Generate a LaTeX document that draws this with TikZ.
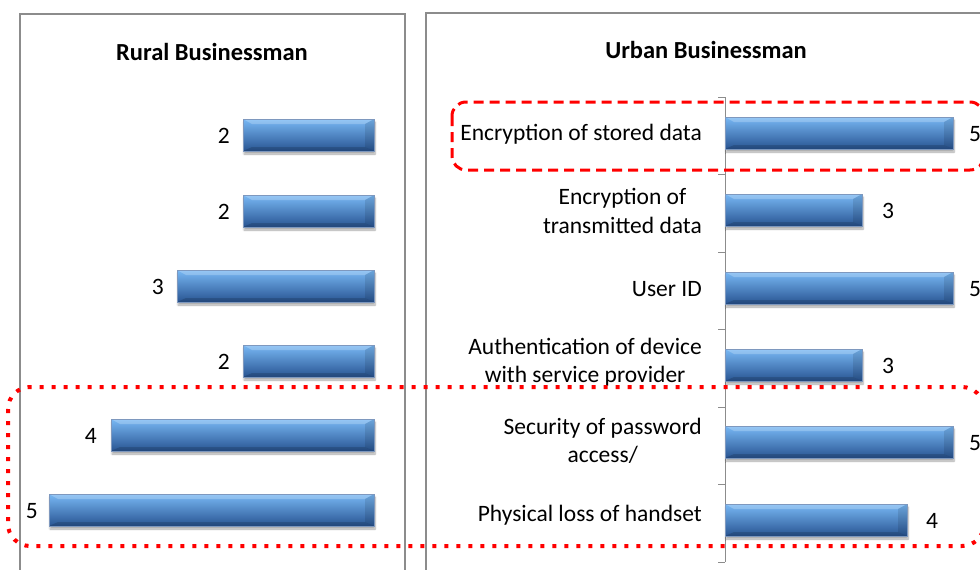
\documentclass[tikz,border=0pt]{standalone}
\usepackage{fontspec}
\setmainfont{Carlito}
\usetikzlibrary{shadows.blur}
\definecolor{barlight}{RGB}{120,184,244}
\definecolor{barmid}{RGB}{60,122,200}
\definecolor{bardark}{RGB}{40,84,146}
\definecolor{framegray}{RGB}{140,140,140}
\definecolor{markred}{RGB}{255,0,0}

\begin{document}
\begin{tikzpicture}[x=1pt,y=-1pt,
  panel/.style={draw=framegray, line width=1.2pt},
  barbox/.style={top color=barlight, middle color=barmid, bottom color=bardark,
    draw=bardark!60, line width=0.3pt,
    blur shadow={shadow xshift=1pt, shadow yshift=-3pt, shadow opacity=35, shadow blur steps=6},
    path picture={
      % bevel: light top face, dark bottom face, dark right end
      \fill[white, opacity=0.22] (path picture bounding box.north west) -- (path picture bounding box.north east)
        -- ([shift={(-9pt,-5pt)}]path picture bounding box.north east) -- ([shift={(9pt,-5pt)}]path picture bounding box.north west) -- cycle;
      \fill[black, opacity=0.15] (path picture bounding box.south west) -- (path picture bounding box.south east)
        -- ([shift={(-9pt,4pt)}]path picture bounding box.south east) -- ([shift={(9pt,4pt)}]path picture bounding box.south west) -- cycle;
      \fill[black, opacity=0.10] (path picture bounding box.north east) -- ([shift={(-9pt,-5pt)}]path picture bounding box.north east)
        -- ([shift={(-9pt,4pt)}]path picture bounding box.south east) -- (path picture bounding box.south east) -- cycle;
    }},
  paneltitle/.style={font=\fontsize{24.5}{28}\selectfont\bfseries},
  val/.style={font=\fontsize{23.5}{28}\selectfont, inner sep=0pt},
  cat/.style={font=\fontsize{23.5}{28.5}\selectfont, anchor=east, align=center, inner sep=0pt}]
\useasboundingbox (0,0) rectangle (980,570);

% Panel frames
\draw[panel] (20,580) |- (405,14) -- (405,580);
\draw[panel] (426,580) |- (990,13);

% Rural panel
\begin{scope}
    \node[paneltitle] (ruraltitle) at (212,52) {Rural Businessman};

    % Bars (right aligned at 374, 65 per unit)
    \shade[barbox] (243,119) rectangle (374,151); % 2
    \shade[barbox] (243,195) rectangle (374,227); % 2
    \shade[barbox] (177,270) rectangle (374,302); % 3
    \shade[barbox] (243,345) rectangle (374,377); % 2
    \shade[barbox] (111,419) rectangle (374,451); % 4
    \shade[barbox] (49,494) rectangle (374,526);  % 5

    % Value labels
    \node[val, anchor=east] (rv1) at (230,136) {2};
    \node[val, anchor=east] (rv2) at (230,212) {2};
    \node[val, anchor=east] (rv3) at (164,287) {3};
    \node[val, anchor=east] (rv4) at (230,362) {2};
    \node[val, anchor=east] (rv5) at (97,436) {4};
    \node[val, anchor=east] (rv6) at (38,511) {5};
\end{scope}

% Urban panel
\begin{scope}
    \node[paneltitle] (urbantitle) at (706,50) {Urban Businessman};

    % Category axis with ticks
    \draw[framegray, line width=1pt] (725,97) -- (725,562);
    \foreach \t in {97,174.5,252,329.5,407,484.5,562}
        \draw[framegray, line width=1pt] (718,\t) -- (725,\t);

    % Bars (left aligned at 725, 45.6 per unit)
    \shade[barbox] (725,117) rectangle (953,149); % 5
    \shade[barbox] (725,194) rectangle (862,226); % 3
    \shade[barbox] (725,272) rectangle (953,304); % 5
    \shade[barbox] (725,349) rectangle (862,381); % 3
    \shade[barbox] (725,426) rectangle (953,458); % 5
    \shade[barbox] (725,504) rectangle (907,536); % 4

    % Value labels
    \node[val] (uv1) at (975,134) {5};
    \node[val] (uv2) at (888,211) {3};
    \node[val] (uv3) at (975,289) {5};
    \node[val] (uv4) at (888,366) {3};
    \node[val] (uv5) at (975,443) {5};
    \node[val] (uv6) at (932,521) {4};

    % Category labels
    \node[cat] (c1) at (702,134) {Encryption of stored data};
    \node[cat] (c2) at (702,211) {Encryption of\\transmitted data};
    \node[cat] (c3) at (702,289) {User ID};
    \node[cat] (c4) at (702,362) {Authentication of device\\with service provider};
    \node[cat] (c5) at (702,441) {Security of password\\access/};
    \node[cat] (c6) at (702,515) {Physical loss of handset};
\end{scope}

% Highlight marks
\draw[markred, line width=3pt, dash pattern=on 10pt off 6pt, rounded corners=14pt]
    (452,102) rectangle (984,170);
\draw[markred, line width=4pt, dash pattern=on 4pt off 8pt, rounded corners=22pt]
    (8,387) rectangle (984,546);

\end{tikzpicture}
\end{document}
